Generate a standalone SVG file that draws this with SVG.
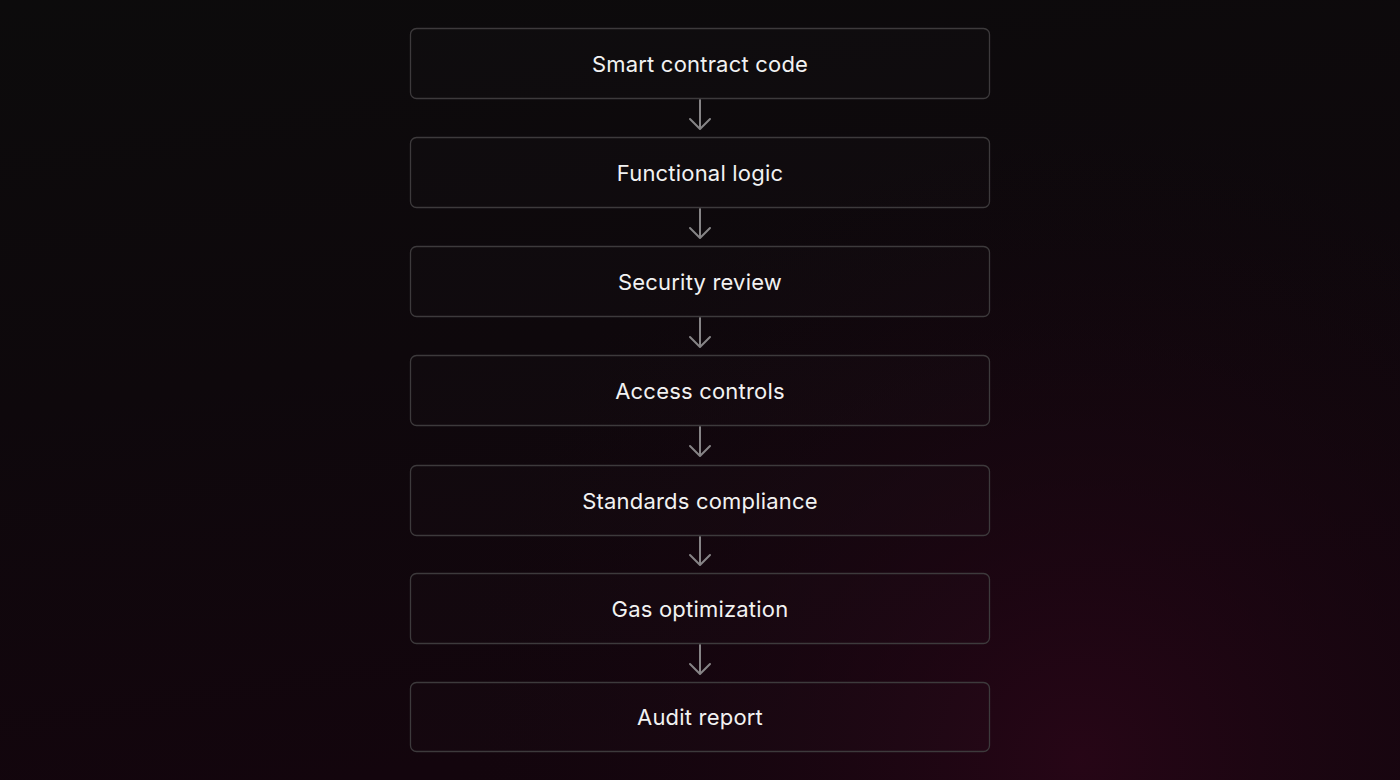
<svg xmlns="http://www.w3.org/2000/svg" width="1400" height="780" viewBox="0 0 1400 780">
<defs>
<linearGradient id="bg" x1="0" y1="0" x2="0.25" y2="1">
<stop offset="0" stop-color="#0c0b0c"/>
<stop offset="0.5" stop-color="#0e080c"/>
<stop offset="1" stop-color="#13050d"/>
</linearGradient>
<radialGradient id="glow" cx="1080" cy="760" r="650" gradientUnits="userSpaceOnUse">
<stop offset="0" stop-color="#2a0618" stop-opacity="0.85"/>
<stop offset="0.5" stop-color="#1c0612" stop-opacity="0.5"/>
<stop offset="1" stop-color="#12060d" stop-opacity="0"/>
</radialGradient>
<style>
.box{fill:#ffffff;fill-opacity:0.012;stroke:#3d3a3c;stroke-width:1.3}
.lbl{font-family:Inter,"Noto Sans","Liberation Sans",sans-serif;font-size:22px;font-weight:400;letter-spacing:0.2px;fill:#f2f2f2;text-anchor:middle;dominant-baseline:central}
.con{fill:none;stroke:#868486;stroke-width:2;stroke-linecap:round;stroke-linejoin:round}
</style>
</defs>
<rect width="1400" height="780" fill="url(#bg)"/>
<rect width="1400" height="780" fill="url(#glow)"/>
<g id="connectors">
<path class="con" d="M700 100V128M690 119L700 129L710 119"/>
<path class="con" d="M700 209V237M690 228L700 238L710 228"/>
<path class="con" d="M700 318V346M690 337L700 347L710 337"/>
<path class="con" d="M700 427V455M690 446L700 456L710 446"/>
<path class="con" d="M700 537V564M690 555L700 565L710 555"/>
<path class="con" d="M700 645V673M690 664L700 674L710 664"/>
</g>
<g id="n1"><rect class="box" x="410.5" y="28.5" width="579" height="70" rx="6"/><text class="lbl" x="700" y="64">Smart contract code</text></g>
<g id="n2"><rect class="box" x="410.5" y="137.5" width="579" height="70" rx="6"/><text class="lbl" x="700" y="173">Functional logic</text></g>
<g id="n3"><rect class="box" x="410.5" y="246.5" width="579" height="70" rx="6"/><text class="lbl" x="700" y="282">Security review</text></g>
<g id="n4"><rect class="box" x="410.5" y="355.5" width="579" height="70" rx="6"/><text class="lbl" x="700" y="391">Access controls</text></g>
<g id="n5"><rect class="box" x="410.5" y="465.5" width="579" height="70" rx="6"/><text class="lbl" x="700" y="501">Standards compliance</text></g>
<g id="n6"><rect class="box" x="410.5" y="573.5" width="579" height="70" rx="6"/><text class="lbl" x="700" y="609">Gas optimization</text></g>
<g id="n7"><rect class="box" x="410.5" y="682.5" width="579" height="69" rx="6"/><text class="lbl" x="700" y="717">Audit report</text></g>
</svg>
